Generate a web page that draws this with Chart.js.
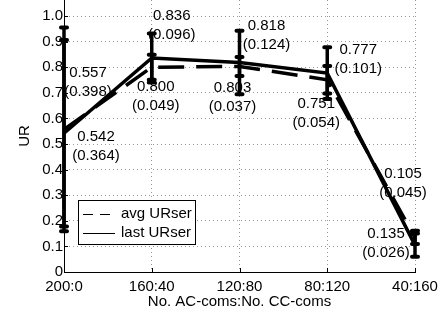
<!DOCTYPE html>
<html>
<head>
<meta charset="utf-8">
<script src="https://cdn.jsdelivr.net/npm/chart.js@4.4.0/dist/chart.umd.min.js"></script>
<style>
  html, body { margin: 0; padding: 0; background: #fff; }
  #wrap { width: 448px; height: 314px; }
</style>
</head>
<body>
<div id="wrap"><canvas id="chart" width="448" height="314"></canvas></div>
<script>
// data
const categories = ['200:0', '160:40', '120:80', '80:120', '40:160'];
const avgURser = [0.557, 0.800, 0.803, 0.751, 0.135];
const avgStd = [0.398, 0.049, 0.037, 0.054, 0.026];
const lastURser = [0.542, 0.836, 0.818, 0.777, 0.105];
const lastStd = [0.364, 0.096, 0.124, 0.101, 0.045];
const yTicks = [0, 0.1, 0.2, 0.3, 0.4, 0.5, 0.6, 0.7, 0.8, 0.9, 1.0];

// where each value label sits, relative to its point (px)
const avgLabelOffsets = [[24, -57], [4, 20], [-7, 21], [-11, 24], [-29, -4]];
const lastLabelOffsets = [[32, 4], [20, -42], [27, -37], [31, -23], [-12, -71]];

const FONT = '15px "Liberation Sans", Arial, sans-serif';

function toPoints(vals) {
    return vals.map((v, i) => ({ x: i, y: v }));
}

// error bars + value labels + axis ticks + legend
const extras = {
    id: 'extras',
    afterDatasetsDraw(chart) {
        const { ctx, scales: { x, y } } = chart;
        const series = [
            { vals: avgURser, std: avgStd, offs: avgLabelOffsets },
            { vals: lastURser, std: lastStd, offs: lastLabelOffsets }
        ];
        ctx.save();
        ctx.strokeStyle = '#000';
        series.forEach(s => {
            s.vals.forEach((v, i) => {
                const px = x.getPixelForValue(i);
                const top = y.getPixelForValue(v + s.std[i]);
                const bot = y.getPixelForValue(v - s.std[i]);
                ctx.lineWidth = 3.5;
                ctx.lineCap = 'butt';
                ctx.beginPath();
                ctx.moveTo(px, top); ctx.lineTo(px, bot);
                ctx.stroke();
                ctx.lineWidth = 4;
                ctx.lineCap = 'round';
                ctx.beginPath();
                ctx.moveTo(px - 3, top); ctx.lineTo(px + 3, top);
                ctx.moveTo(px - 3, bot); ctx.lineTo(px + 3, bot);
                ctx.stroke();
            });
        });

        ctx.fillStyle = '#000';
        ctx.font = FONT;
        ctx.textAlign = 'center';
        ctx.textBaseline = 'middle';
        series.forEach(s => {
            s.vals.forEach((v, i) => {
                const px = x.getPixelForValue(i) + s.offs[i][0];
                const py = y.getPixelForValue(v) + s.offs[i][1];
                ctx.fillText(v.toFixed(3), px, py);
                ctx.fillText('(' + s.std[i].toFixed(3) + ')', px, py + 19);
            });
        });
        ctx.restore();
    },
    afterDraw(chart) {
        const { ctx, chartArea: ca, scales: { x, y } } = chart;
        ctx.save();
        // inward tick marks
        ctx.strokeStyle = '#000';
        ctx.lineWidth = 1;
        ctx.beginPath();
        categories.forEach((c, i) => {
            const px = Math.round(x.getPixelForValue(i)) + 0.5;
            ctx.moveTo(px, ca.bottom); ctx.lineTo(px, ca.bottom - 4);
        });
        yTicks.forEach(t => {
            const py = Math.round(y.getPixelForValue(t)) + 0.5;
            ctx.moveTo(ca.left, py); ctx.lineTo(ca.left + 4, py);
        });
        ctx.stroke();

        // legend box
        ctx.fillStyle = '#fff';
        ctx.fillRect(78, 200, 117, 44);
        ctx.strokeRect(78.5, 200.5, 117, 44);
        ctx.beginPath();
        ctx.setLineDash([10, 7]);
        ctx.moveTo(83, 214.5); ctx.lineTo(111, 214.5);
        ctx.stroke();
        ctx.setLineDash([]);
        ctx.beginPath();
        ctx.moveTo(83, 233.5); ctx.lineTo(115, 233.5);
        ctx.stroke();
        ctx.fillStyle = '#000';
        ctx.font = FONT;
        ctx.textAlign = 'left';
        ctx.textBaseline = 'middle';
        ctx.fillText(chart.data.datasets[0].label, 121, 214);
        ctx.fillText(chart.data.datasets[1].label, 121, 233);
        ctx.restore();
    }
};

const ctx = document.getElementById('chart').getContext('2d');
new Chart(ctx, {
    type: 'line',
    data: {
        datasets: [
            { label: 'avg URser', data: toPoints(avgURser), borderColor: '#000', borderWidth: 3.5,
              borderDash: [26, 12], pointRadius: 0, tension: 0, clip: false },
            { label: 'last URser', data: toPoints(lastURser), borderColor: '#000', borderWidth: 3.5,
              pointRadius: 0, tension: 0, clip: false }
        ]
    },
    options: {
        responsive: false,
        animation: false,
        layout: { padding: { top: 0, right: 33, bottom: 0, left: 0 } },
        plugins: { legend: { display: false }, tooltip: { enabled: false } },
        scales: {
            x: {
                type: 'linear',
                min: 0,
                max: 4,
                afterBuildTicks: s => { s.ticks = categories.map((c, i) => ({ value: i })); },
                afterFit: s => { s.height = 42; },
                ticks: {
                    callback: v => categories[v],
                    color: '#000',
                    font: { family: '"Liberation Sans", Arial, sans-serif', size: 15 },
                    padding: 6,
                    maxRotation: 0,
                    autoSkip: false
                },
                grid: { color: '#999', drawTicks: false },
                border: { display: true, color: '#000', width: 1, dash: [1, 3] },
                title: {
                    display: true,
                    text: 'No. AC-coms:No. CC-coms',
                    color: '#000',
                    font: { family: '"Liberation Sans", Arial, sans-serif', size: 15 },
                    padding: { top: 0, bottom: 3 }
                }
            },
            y: {
                min: 0,
                max: 1.0625,
                afterBuildTicks: s => { s.ticks = yTicks.map(v => ({ value: v })); },
                afterFit: s => { s.width = 64; s.paddingTop = 0; s.paddingBottom = 0; },
                ticks: {
                    callback: v => (v === 0 ? '0' : v.toFixed(1)),
                    color: '#000',
                    font: { family: '"Liberation Sans", Arial, sans-serif', size: 15 },
                    padding: 1
                },
                grid: { color: '#999', drawTicks: false },
                border: { display: true, color: '#000', width: 1, dash: [1, 3] },
                title: {
                    display: true,
                    text: 'UR',
                    color: '#000',
                    font: { family: '"Liberation Sans", Arial, sans-serif', size: 15 },
                    padding: { top: 16, bottom: 0 }
                }
            }
        }
    },
    plugins: [extras]
});
</script>
</body>
</html>
